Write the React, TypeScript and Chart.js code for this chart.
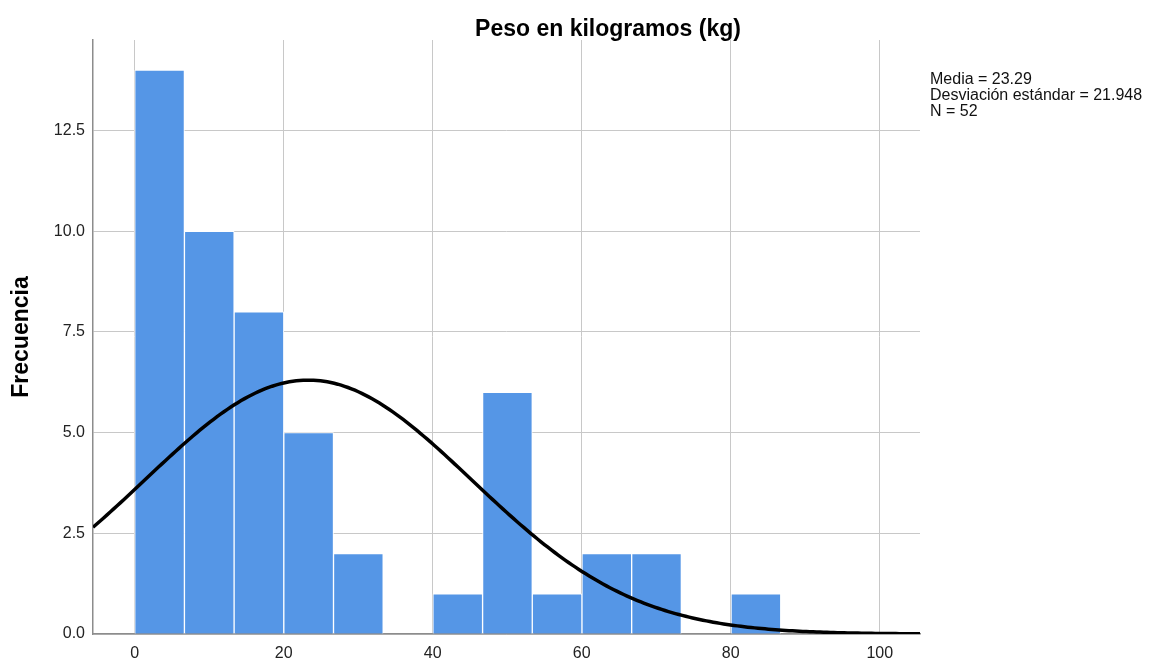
import React, { useEffect, useRef } from "react";
import { Chart, registerables } from "chart.js";

Chart.register(...registerables);

// Histogram of weights (kg): bins start at 0, each BIN_WIDTH wide
const BIN_START = 0;
const BIN_WIDTH = 6.67;
const FREQUENCIES: (number | null)[] = [14, 10, 8, 5, 2, null, 1, 6, 1, 2, 2, null, 1];

// Summary statistics shown beside the chart
const MEAN = 23.29;
const SD = 21.948;
const N = 52;

const X_MIN = -5.6;
const X_MAX = 105.4;
const Y_MAX = 14.75;
const X_TICK_STEP = 20;
const Y_TICK_STEP = 2.5;

const TITLE = "Peso en kilogramos (kg)";
const Y_TITLE = "Frecuencia";
const STATS_LINES = [
  `Media = ${MEAN.toFixed(2)}`,
  `Desviación estándar = ${SD.toFixed(3)}`,
  `N = ${N}`,
];

const FONT = "'Liberation Sans', Arial, sans-serif";
const BAR_COLOR = "#5596e6";
const GRID_COLOR = "#c8c8c8";
const AXIS_COLOR = "#8c8c8c";

// Normal curve scaled to counts per bin, sampled across the x range
function normalCurve() {
  const pts: { x: number; y: number }[] = [];
  const scale = (N * BIN_WIDTH) / (SD * Math.sqrt(2 * Math.PI));
  const steps = 240;
  for (let i = 0; i <= steps; i++) {
    const x = X_MIN + ((X_MAX - X_MIN) * i) / steps;
    const z = (x - MEAN) / SD;
    pts.push({ x, y: scale * Math.exp(-0.5 * z * z) });
  }
  return pts;
}

const annotations = {
  id: "annotations",
  afterDraw(chart: Chart) {
    const ctx = chart.ctx;
    ctx.save();
    ctx.fillStyle = "#000";
    ctx.font = `bold 23px ${FONT}`;
    ctx.textAlign = "center";
    ctx.textBaseline = "alphabetic";
    ctx.fillText(TITLE, 608, 36);

    ctx.font = `16px ${FONT}`;
    ctx.textAlign = "left";
    ctx.fillStyle = "#111";
    STATS_LINES.forEach((line, i) => {
      ctx.fillText(line, 930, 84 + i * 16);
    });
    ctx.restore();
  },
};

export default function App() {
  const canvasRef = useRef<HTMLCanvasElement | null>(null);

  useEffect(() => {
    if (!canvasRef.current) return;
    const bars = FREQUENCIES.map((f, i) => ({
      x: BIN_START + BIN_WIDTH * (i + 0.5),
      y: f,
    }));

    const chart = new Chart(canvasRef.current, {
      type: "bar",
      data: {
        datasets: [
          {
            type: "line",
            data: normalCurve(),
            borderColor: "#000",
            borderWidth: 3.5,
            pointRadius: 0,
            tension: 0,
            order: 0,
          } as any,
          {
            type: "bar",
            data: bars as any,
            backgroundColor: BAR_COLOR,
            borderColor: "#ffffff",
            borderWidth: 1,
            borderSkipped: "bottom",
            barPercentage: 1,
            categoryPercentage: 1,
            order: 1,
          },
        ],
      },
      options: {
        responsive: false,
        animation: false,
        layout: { padding: { left: 0, right: 229, top: 40, bottom: 0 } },
        plugins: {
          legend: { display: false },
          tooltip: { enabled: false },
          title: { display: false },
        },
        scales: {
          x: {
            type: "linear",
            min: X_MIN,
            max: X_MAX,
            offset: false,
            afterFit: (scale: any) => {
              scale.height = 29;
            },
            grid: { color: GRID_COLOR, lineWidth: 1, drawTicks: false, offset: false },
            border: { color: AXIS_COLOR, width: 1.5 },
            ticks: {
              stepSize: X_TICK_STEP,
              includeBounds: false,
              padding: 10,
              color: "#222",
              font: { family: FONT, size: 16 },
              maxRotation: 0,
              callback: (v: any) => String(v),
            },
          },
          y: {
            type: "linear",
            min: 0,
            max: Y_MAX,
            afterFit: (scale: any) => {
              scale.width = 93;
            },
            grid: { color: GRID_COLOR, lineWidth: 1, drawTicks: false },
            border: { color: AXIS_COLOR, width: 1.5 },
            title: {
              display: true,
              text: Y_TITLE,
              color: "#000",
              font: { family: FONT, size: 23, weight: "bold" },
              padding: { top: 8, bottom: 0 },
            },
            ticks: {
              stepSize: Y_TICK_STEP,
              includeBounds: false,
              padding: 8,
              color: "#222",
              font: { family: FONT, size: 16 },
              callback: (v: any) => Number(v).toFixed(1),
            },
          },
        },
      },
      plugins: [annotations],
    });

    return () => chart.destroy();
  }, []);

  return (
    <div style={{ position: "fixed", left: 0, top: 0, width: 1149, height: 663, background: "#fff" }}>
      <canvas ref={canvasRef} width={1149} height={663} />
    </div>
  );
}
